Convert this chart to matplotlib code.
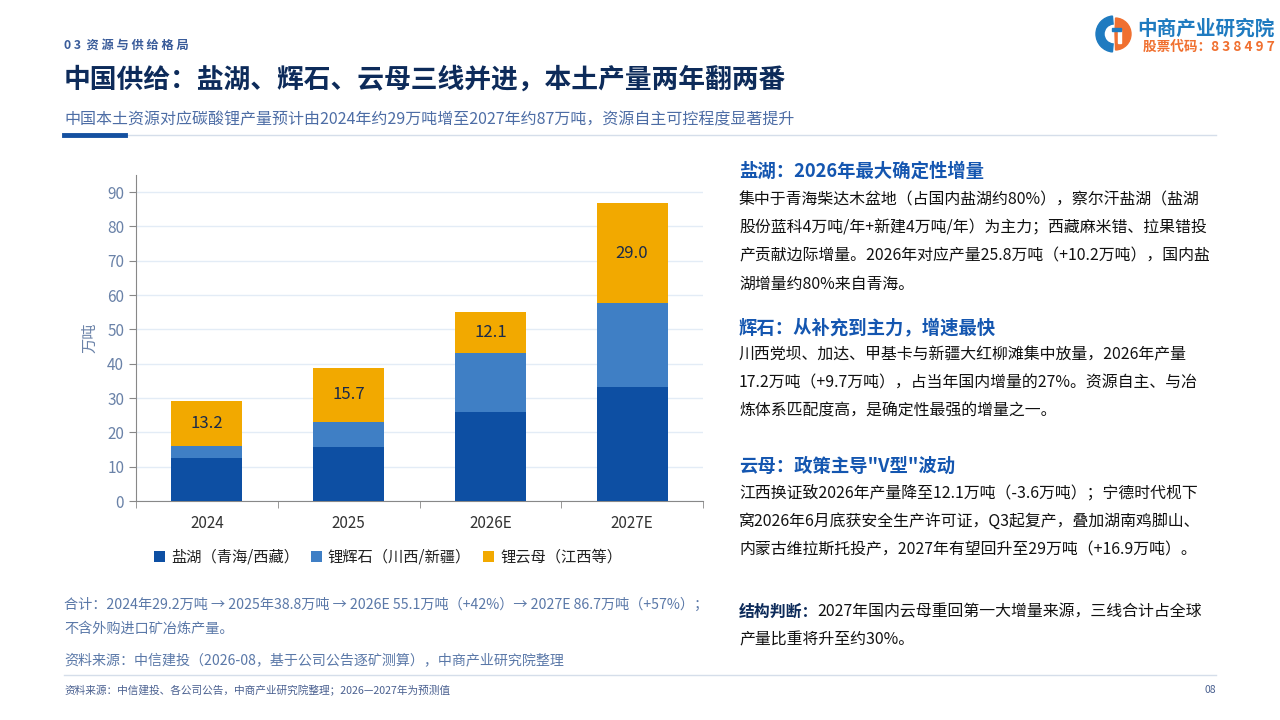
import numpy as np
import matplotlib
matplotlib.use("Agg")
import matplotlib.pyplot as plt
from matplotlib.patches import Wedge, Rectangle

plt.rcParams['font.family'] = ['Noto Sans CJK SC', 'DejaVu Sans']

# 数据（万吨 LCE）
years = ["2024", "2025", "2026E", "2027E"]
brine = [12.5, 15.6, 25.8, 33.2]      # 盐湖（青海/西藏）
spod = [3.5, 7.5, 17.2, 24.5]         # 锂辉石（川西/新疆）
lepid = [13.2, 15.7, 12.1, 29.0]      # 锂云母（江西等）
series_names = ["盐湖（青海/西藏）", "锂辉石（川西/新疆）", "锂云母（江西等）"]
yticks = [0, 10, 20, 30, 40, 50, 60, 70, 80, 90]

c_brine = "#0d4fa3"
c_spod = "#3f7fc5"
c_lepid = "#f2a900"
navy = "#0d2b5a"
blue_head = "#1456b0"
grey_blue = "#5a78a8"

W, H = 1280, 720
fig = plt.figure(figsize=(12.8, 7.2), dpi=100)


def px(x, y):
    return x / W, 1 - y / H


def text(x, y, s, **kw):
    kw.setdefault("va", "center")
    fig.text(*px(x, y), s, **kw)


# 页眉
text(64, 45, "0 3  资 源 与 供 给 格 局", fontsize=8.8, color="#3a5c9a", fontweight="bold")
text(64, 80, "中国供给：盐湖、辉石、云母三线并进，本土产量两年翻两番",
     fontsize=19.3, color=navy, fontweight="bold")
text(64, 120, "中国本土资源对应碳酸锂产量预计由2024年约29万吨增至2027年约87万吨，资源自主可控程度显著提升",
     fontsize=11.5, color="#4d6da5")
fig.add_artist(plt.Line2D([64 / W, 1216 / W], [1 - 135 / H] * 2, color="#d5deea", lw=1))
fig.add_artist(plt.Line2D([64 / W, 125 / W], [1 - 134.5 / H] * 2, color="#1450a0", lw=3.5))

# logo
logo = fig.add_axes([1094 / W, 1 - 54 / H, 40 / W, 40 / H])
logo.set_xlim(-20, 20)
logo.set_ylim(-20, 20)
logo.set_aspect("equal")
logo.axis("off")
logo.add_patch(Wedge((0, 0), 18, 95, 265, width=8, color="#1f7bc0"))
logo.add_patch(Wedge((1, 0), 16, -88, 88, color="#f07030"))
logo.add_patch(Rectangle((3.5, -9), 3, 13, color="white"))
logo.add_patch(Rectangle((-2, 3), 8.5, 3, color="#1f7bc0"))
text(1275, 29, "中商产业研究院", fontsize=14.1, color="#1f7bc0", fontweight="bold", ha="right")
text(1275, 47, "股票代码：8 3 8 4 9 7", fontsize=9.8, color="#f07030", fontweight="bold", ha="right")

# 柱状图
ax = fig.add_axes([136 / W, 1 - 501 / H, (703 - 136) / W, (501 - 175) / H])
x = np.arange(len(years))
b1 = ax.bar(x, brine, 0.5, color=c_brine, label=series_names[0], zorder=3)
b2 = ax.bar(x, spod, 0.5, bottom=brine, color=c_spod, label=series_names[1], zorder=3)
bottom3 = np.array(brine) + np.array(spod)
b3 = ax.bar(x, lepid, 0.5, bottom=bottom3, color=c_lepid, label=series_names[2], zorder=3)
for xi, b, v in zip(x, bottom3, lepid):
    ax.text(xi, b + v / 2, f"{v:.1f}", ha="center", va="center", fontsize=12, color="#1a2a4a")

ax.set_xlim(-0.5, 3.5)
ax.set_ylim(0, 95)
ax.set_yticks(yticks)
ax.set_xticks(x)
ax.set_xticklabels(years)
ax.set_xticks(np.arange(-0.5, 4, 1), minor=True)
ax.tick_params(axis="x", which="major", length=0, pad=10, labelsize=11, labelcolor="#333333")
ax.tick_params(axis="x", which="minor", length=5, color="#888888")
ax.tick_params(axis="y", length=5, color="#888888", labelsize=11, labelcolor="#6a82a8")
ax.grid(axis="y", color="#e3ecf6", lw=1, zorder=0)
for s in ["top", "right"]:
    ax.spines[s].set_visible(False)
for s in ["left", "bottom"]:
    ax.spines[s].set_color("#888888")
ax.set_ylabel("万吨", fontsize=11, color="#6a82a8", labelpad=6)

fig.legend(handles=[b1, b2, b3], loc="center", bbox_to_anchor=px(388, 557), ncol=3,
           frameon=False, fontsize=11, handlelength=0.7, handleheight=0.7,
           handletextpad=0.4, columnspacing=0.8, labelcolor="#222222")

# 图下注释
text(64, 605, "合计：2024年29.2万吨 → 2025年38.8万吨 → 2026E 55.1万吨（+42%）→ 2027E 86.7万吨（+57%）；",
     fontsize=10.2, color=grey_blue)
text(64, 629, "不含外购进口矿冶炼产量。", fontsize=10.2, color=grey_blue)
text(64, 661, "资料来源：中信建投（2026-08，基于公司公告逐矿测算），中商产业研究院整理",
     fontsize=10.1, color=grey_blue)

# 右侧文字
body_fs = 11.45
text(739, 171, "盐湖：2026年最大确定性增量", fontsize=13.2, color=blue_head, fontweight="bold")
body1 = ["集中于青海柴达木盆地（占国内盐湖约80%），察尔汗盐湖（盐湖",
         "股份蓝科4万吨/年+新建4万吨/年）为主力；西藏麻米错、拉果错投",
         "产贡献边际增量。2026年对应产量25.8万吨（+10.2万吨），国内盐",
         "湖增量约80%来自青海。"]
for i, s in enumerate(body1):
    text(739, 200 + 28 * i, s, fontsize=body_fs, color="#111111")

text(739, 328, "辉石：从补充到主力，增速最快", fontsize=13.2, color=blue_head, fontweight="bold")
body2 = ["川西党坝、加达、甲基卡与新疆大红柳滩集中放量，2026年产量",
         "17.2万吨（+9.7万吨），占当年国内增量的27%。资源自主、与冶",
         "炼体系匹配度高，是确定性最强的增量之一。"]
for i, s in enumerate(body2):
    text(739, 355 + 28 * i, s, fontsize=body_fs, color="#111111")

text(739, 466, "云母：政策主导\"V型\"波动", fontsize=13.2, color=blue_head, fontweight="bold")
body3 = ["江西换证致2026年产量降至12.1万吨（-3.6万吨）；宁德时代枧下",
         "窝2026年6月底获安全生产许可证，Q3起复产，叠加湖南鸡脚山、",
         "内蒙古维拉斯托投产，2027年有望回升至29万吨（+16.9万吨）。"]
for i, s in enumerate(body3):
    text(739, 493 + 28.5 * i, s, fontsize=body_fs, color="#111111")

text(739, 612, "结构判断：", fontsize=body_fs, color=navy, fontweight="bold")
text(817, 612, "2027年国内云母重回第一大增量来源，三线合计占全球", fontsize=body_fs, color="#111111")
text(739, 640, "产量比重将升至约30%。", fontsize=body_fs, color="#111111")

# 页脚
fig.add_artist(plt.Line2D([64 / W, 1216 / W], [1 - 675 / H] * 2, color="#d5deea", lw=1))
text(64, 690, "资料来源：中信建投、各公司公告，中商产业研究院整理；2026—2027年为预测值",
     fontsize=7.7, color="#4a6090")
text(1216, 690, "08", fontsize=7.5, color="#4a6090", ha="right")

fig.savefig("out.png", dpi=100)
